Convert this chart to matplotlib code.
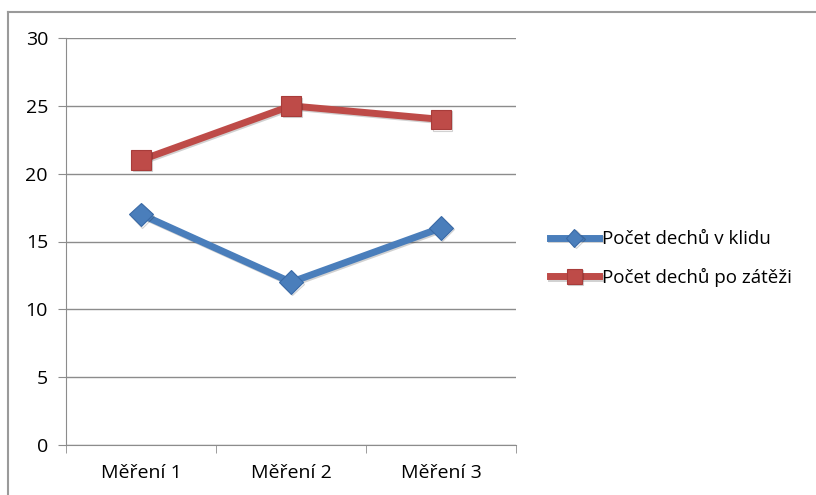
import matplotlib.pyplot as plt
import matplotlib.patheffects as pe
from matplotlib.lines import Line2D

categories = ['Měření 1', 'Měření 2', 'Měření 3']
klid = [17, 12, 16]
zatez = [21, 25, 24]
series_names = ['Počet dechů v klidu', 'Počet dechů po zátěži']
y_ticks = [0, 5, 10, 15, 20, 25, 30]

blue = '#4a7ebb'
red = '#be4b48'
grid_col = '#8c8c8c'

plt.rcParams['font.family'] = ['Open Sans', 'DejaVu Sans']

fig = plt.figure(figsize=(8.16, 4.95), dpi=100)
ax = fig.add_axes([66 / 816, 1 - 445 / 495, 450 / 816, 407 / 495])

x = list(range(len(categories)))
shadow = [pe.SimpleLineShadow(offset=(1, -1), alpha=0.18), pe.Normal()]
ax.plot(x, klid, color=blue, lw=5, marker='D', ms=12,
        markeredgecolor='#3a6aa6', markeredgewidth=0.8,
        label=series_names[0], path_effects=shadow, zorder=3)
ax.plot(x, zatez, color=red, lw=5, marker='s', ms=14,
        markeredgecolor='#a83c3a', markeredgewidth=0.8,
        label=series_names[1], path_effects=shadow, zorder=3)

ax.set_xlim(-0.5, 2.5)
ax.set_ylim(0, 30)
ax.set_yticks(y_ticks)
ax.set_xticks(x)
ax.set_xticklabels(categories)
ax.set_xticks([-0.5, 0.5, 1.5, 2.5], minor=True)
ax.tick_params(axis='x', which='major', length=0, pad=14, labelsize=14)
ax.tick_params(axis='x', which='minor', length=6, color=grid_col)
ax.tick_params(axis='y', length=6, color=grid_col, pad=7, labelsize=14)

ax.yaxis.grid(True, color=grid_col, lw=1)
ax.set_axisbelow(True)
for side in ['top', 'right']:
    ax.spines[side].set_visible(False)
ax.spines['left'].set_color(grid_col)
ax.spines['bottom'].set_color(grid_col)

leg = ax.legend(loc='center left', bbox_to_anchor=((550 - 66) / 450, 0.458),
                frameon=False, fontsize=13.5, handlelength=2.6,
                handletextpad=0.15, labelspacing=1.05, borderpad=0,
                borderaxespad=0, markerscale=0.75)

# outer chart frame, cut off at right and bottom
fig.add_artist(Line2D([8 / 816, 1], [1 - 12 / 495, 1 - 12 / 495],
                      color='#9a9a9a', lw=1.5))
fig.add_artist(Line2D([8 / 816, 8 / 816], [0, 1 - 12 / 495],
                      color='#9a9a9a', lw=1.5))

fig.savefig('out.png', dpi=100)
